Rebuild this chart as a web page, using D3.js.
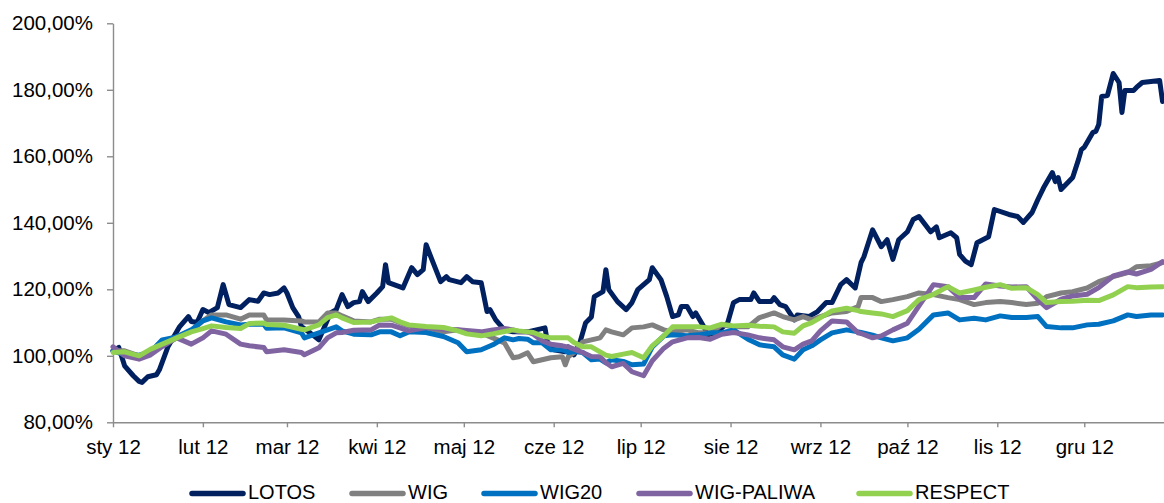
<!DOCTYPE html>
<html><head><meta charset="utf-8">
<script src="https://cdnjs.cloudflare.com/ajax/libs/d3/7.8.5/d3.min.js"></script>
<style>
body{margin:0;background:#fff;}
svg text{font-family:"Liberation Sans",Arial,sans-serif;fill:#000;}
</style>
</head><body>
<svg id="chart" width="1164" height="503"></svg>
<script>
// ---------- DATA ----------
const yTicks = [80,100,120,140,160,180,200];
const monthTicks = ["2012-01-01","2012-02-01","2012-03-01","2012-04-01","2012-05-01","2012-06-01","2012-07-01","2012-08-01","2012-09-01","2012-10-01","2012-11-01","2012-12-01"];
const monthLabels = ["sty 12","lut 12","mar 12","kwi 12","maj 12","cze 12","lip 12","sie 12","wrz 12","paź 12","lis 12","gru 12"];
const seriesNames = ["LOTOS","WIG","WIG20","WIG-PALIWA","RESPECT"];
const seriesColors = ["#002060","#808080","#0070C0","#8064A2","#92D050"];

const lotosDates = ["2012-01-01","2012-01-03","2012-01-05","2012-01-08","2012-01-10","2012-01-11","2012-01-13","2012-01-16","2012-01-17","2012-01-20","2012-01-22","2012-01-24","2012-01-27","2012-01-28","2012-01-30",
"2012-02-01","2012-02-03","2012-02-06","2012-02-08","2012-02-10","2012-02-14","2012-02-17","2012-02-20","2012-02-22","2012-02-24","2012-02-27","2012-02-29",
"2012-03-01","2012-03-03","2012-03-05","2012-03-06","2012-03-09","2012-03-12","2012-03-14","2012-03-16","2012-03-18","2012-03-20","2012-03-22","2012-03-24","2012-03-26","2012-03-27","2012-03-29",
"2012-04-01","2012-04-03","2012-04-04","2012-04-05","2012-04-10","2012-04-13","2012-04-15","2012-04-17","2012-04-18","2012-04-20","2012-04-23","2012-04-25","2012-04-26","2012-04-30",
"2012-05-02","2012-05-04","2012-05-07","2012-05-09","2012-05-10","2012-05-12","2012-05-15","2012-05-18","2012-05-23","2012-05-26","2012-05-29","2012-05-30",
"2012-06-01","2012-06-05","2012-06-06","2012-06-08","2012-06-10","2012-06-12","2012-06-14","2012-06-15","2012-06-18","2012-06-19","2012-06-20","2012-06-23","2012-06-26","2012-06-28","2012-06-30",
"2012-07-02","2012-07-04","2012-07-05","2012-07-08","2012-07-10","2012-07-12","2012-07-14","2012-07-15","2012-07-17","2012-07-19","2012-07-20","2012-07-23","2012-07-24","2012-07-27","2012-07-31",
"2012-08-02","2012-08-04","2012-08-08","2012-08-09","2012-08-11","2012-08-15","2012-08-16","2012-08-18","2012-08-20","2012-08-23","2012-08-24","2012-08-28","2012-08-31",
"2012-09-03","2012-09-05","2012-09-08","2012-09-10","2012-09-13","2012-09-15","2012-09-16","2012-09-17","2012-09-19","2012-09-22","2012-09-24","2012-09-26","2012-09-28",
"2012-10-01","2012-10-03","2012-10-05","2012-10-09","2012-10-11","2012-10-12","2012-10-16","2012-10-18","2012-10-19","2012-10-21","2012-10-23","2012-10-25","2012-10-29","2012-10-31",
"2012-11-05","2012-11-08","2012-11-10","2012-11-13","2012-11-15","2012-11-17","2012-11-20","2012-11-21","2012-11-22","2012-11-23","2012-11-27","2012-11-29","2012-11-30",
"2012-12-01","2012-12-04","2012-12-05","2012-12-06","2012-12-07","2012-12-09","2012-12-11","2012-12-13","2012-12-14","2012-12-15","2012-12-18","2012-12-19","2012-12-21","2012-12-27","2012-12-28"];
const lotos = [101.5,102.5,97,94,92.3,92,93.7,94.3,95.8,102.8,105.8,108.8,111.8,110.3,110,
113.9,113,114.5,121.4,115.4,114.5,116.9,116.4,118.9,118.4,118.9,120.4,
118.9,114.5,111.8,108.8,106.9,104.8,108.8,112.9,113.9,118.4,114.8,116,116.3,119.3,116.3,
118.9,120.8,127.4,122,120.4,126.5,124.4,125.9,133.4,128.9,122.3,123.8,122.9,122,
123.8,122.3,122,113.3,113.9,110.8,107.8,107.2,107.2,107.8,108.4,103.3,
101.8,101.2,102.7,100.3,103.9,109.9,111.7,117.8,119.3,125.9,119.9,116.3,113.9,116,119.9,
121.4,122.9,126.5,122.9,117.8,111.8,112.3,114.8,114.8,111.8,112.9,108.4,106.3,106.9,109.9,
116,116.9,116.9,118.9,116.3,116.3,117.5,115.4,114.8,110.8,112.3,111.8,113.3,
116,116,121.4,122.9,120.4,128,129.8,132.5,137.9,132.8,134.9,129,134.9,
137.3,141,141.9,137.3,138.8,135.5,137,135.5,130.5,128.5,127.4,134,135.8,144,
142.5,141.9,140.1,143.1,147,150.6,155.1,152.4,153.6,150,153.6,159,162,
162.7,167.2,167.5,169.6,178,178.3,184.9,182.2,173.2,179.8,179.8,180.7,182.2,182.8,176.5];

const indexDates = ["2012-01-01","2012-01-05","2012-01-10","2012-01-14","2012-01-18","2012-01-23","2012-01-28",
"2012-02-01","2012-02-04","2012-02-09","2012-02-14","2012-02-17","2012-02-22","2012-02-23","2012-02-29",
"2012-03-06","2012-03-07","2012-03-12","2012-03-15","2012-03-18","2012-03-20","2012-03-24","2012-03-30",
"2012-04-02","2012-04-06","2012-04-09","2012-04-12","2012-04-18","2012-04-24","2012-04-29",
"2012-05-02","2012-05-07","2012-05-11","2012-05-15","2012-05-18","2012-05-20","2012-05-23","2012-05-25","2012-05-28","2012-05-31",
"2012-06-04","2012-06-05","2012-06-06","2012-06-08","2012-06-11","2012-06-14","2012-06-17","2012-06-19","2012-06-21","2012-06-25","2012-06-28",
"2012-07-02","2012-07-05","2012-07-09","2012-07-12","2012-07-17","2012-07-21","2012-07-25","2012-07-29",
"2012-08-02","2012-08-07","2012-08-11","2012-08-16","2012-08-19","2012-08-23","2012-08-26","2012-08-29",
"2012-09-01","2012-09-05","2012-09-10","2012-09-14","2012-09-15","2012-09-19","2012-09-22","2012-09-26",
"2012-10-01","2012-10-05","2012-10-10","2012-10-15","2012-10-19","2012-10-24","2012-10-28",
"2012-11-02","2012-11-06","2012-11-11","2012-11-15","2012-11-18","2012-11-23","2012-11-27",
"2012-12-02","2012-12-06","2012-12-11","2012-12-16","2012-12-19","2012-12-24","2012-12-28"];
const wig = [101.5,101.5,100,100.8,104.2,105.7,107.5,110.5,112.3,112.3,
111,112.3,112.3,110.8,110.8,110.5,110.2,110.2,112.9,112.9,
112,110.5,110.2,111,111,110,109,108.5,107.2,107.8,
107.2,106.9,105.4,103.9,99.4,99.7,100.9,98.2,98.8,99.4,
99.7,97.3,99.7,100.9,104.2,104.8,105.4,107.8,107.2,106.3,
108.4,108.7,109.3,107.8,107.2,107.8,106.9,106.9,109.3,108.7,
108.7,111.5,112.9,111.8,110.8,111.8,110.8,111.8,112.9,113.3,
114.8,117.5,117.5,116.3,116.9,117.8,118.9,118.4,117.5,116.9,
115.4,116,116.3,116,115.4,115.8,117.8,118.9,119.3,120.4,
122.3,123.8,125,126.8,127.1,128];
const wig20 = [101.5,100.3,100.2,101.2,104.8,105.7,107.8,110.5,111.4,110.2,
109.3,109.5,109.5,108.3,108.4,106.9,105.4,106.9,107.8,108.7,
107.5,106.5,106.3,107.2,107.2,106,107.2,107,105.8,103.9,
101.2,101.8,103.3,105.4,104.8,105.2,105,103.9,103.9,101.8,
101.8,101.5,101,101.3,101,98.8,99,97.9,98.8,98.3,
97.3,97.5,102.7,106,106.3,106,106.3,106.9,106.9,107.8,
105,103.3,102.7,100.3,99,101.8,103,104.8,106.9,107.8,
107.2,107,106.2,105.4,104.5,105.4,108,112.3,112.9,110.8,
111.3,110.8,112,111.5,111.5,111.8,108.8,108.4,108.4,109.3,
109.5,110.5,112.3,111.8,112.3,112.3];
const wigPaliwa = [102.7,100,99,100.3,102.8,105.4,103.5,105.4,107.5,106.5,
103.5,103,102.5,101.2,101.8,101,100.3,102.4,105.4,106.9,
107,107.7,107.8,109.3,109.2,108.4,107.5,108.5,108,107.8,
107.6,107.2,107.8,108.2,107.8,107.2,107.2,106.5,104.5,103.5,
103,102.8,102.7,102,101,99.8,99.7,97.9,96.7,97.7,
95.2,94,98.5,102.3,104.2,105.4,105.5,105,106.5,107,
106.3,105.4,104.8,102.7,101.8,103.5,104.5,107.5,110.5,110.2,
106.9,106.7,105.4,106,107.8,109.8,115,121.4,120.8,117.5,
117.5,121.6,121,120.7,120.8,116.9,114.5,117,118,118.5,
120.5,124,125.2,124.6,126,128.3];
const respect = [101,101.2,100,102,103.5,105.4,107.2,108.2,109,108.5,
108.2,109.7,109.9,109.4,109.2,108,107.8,109.3,111.5,112.3,
111.4,110,110.2,110.8,111.4,110.2,109.3,108.8,108.5,107.5,
106.6,106,106.6,107.3,107.8,107.5,107.2,107,106,105.4,
105.4,105.4,105.4,104,102.7,102.7,101.2,100.2,99.8,100.5,
101,99.4,103,106,108.7,108.7,108.7,108.4,109.5,109,
109.2,108.9,108.7,107.2,106.8,109,110,111.5,113.5,114.3,
113.6,113.3,112.9,112.6,111.8,113.6,116.9,118.5,120.8,118.9,
119.8,120.6,121.4,120.3,120.5,118.4,116,116.3,116.4,116.7,
116.6,118.3,120.8,120.5,120.7,120.8];

// ---------- CHART ----------
const parse = d3.timeParse("%Y-%m-%d");
const svg = d3.select("#chart");
const x = d3.scaleTime()
  .domain([new Date(2012,0,1), new Date(2012,11,28,12)])
  .range([113, 1164]);
const y = d3.scaleLinear().domain([80,200]).range([422.3, 23.3]);

const fmt = d => d3.format(".2f")(d).replace(".", ",") + "%";
const axisColor = "#8c8c8c";

const gy = svg.append("g").attr("transform","translate(113,0)")
  .call(d3.axisLeft(y).tickValues(yTicks).tickSize(6).tickSizeOuter(0).tickPadding(14).tickFormat(fmt));
const gx = svg.append("g").attr("transform","translate(0,422.3)")
  .call(d3.axisBottom(x).tickValues(monthTicks.map(parse)).tickSize(5).tickSizeOuter(0).tickPadding(12)
    .tickFormat((d,i) => monthLabels[i]));
[gx, gy].forEach(g => {
  g.selectAll("path.domain").attr("stroke", axisColor).attr("stroke-width", 1.4);
  g.selectAll(".tick line").attr("stroke", axisColor).attr("stroke-width", 1.4);
  g.selectAll(".tick text").attr("font-size", "20.5px").attr("font-family", '"Liberation Sans",Arial,sans-serif').attr("fill","#000");
});

const series = [
  {name: seriesNames[0], dates: lotosDates, values: lotos},
  {name: seriesNames[1], dates: indexDates, values: wig},
  {name: seriesNames[2], dates: indexDates, values: wig20},
  {name: seriesNames[3], dates: indexDates, values: wigPaliwa},
  {name: seriesNames[4], dates: indexDates, values: respect}
];
const line = d3.line().x(d => x(d[0])).y(d => y(d[1]));
series.forEach((s, i) => {
  const pts = s.dates.map((d, j) => [parse(d), s.values[j]]);
  svg.append("path").datum(pts)
    .attr("d", line)
    .attr("fill", "none")
    .attr("stroke", seriesColors[i])
    .attr("stroke-width", 5)
    .attr("stroke-linejoin", "round")
    .attr("stroke-linecap", "round");
});

// legend
const legendX = [190, 350, 482, 637, 857];
const legend = svg.append("g");
const ly = 493.5;
seriesNames.forEach((n, i) => {
  const lx = legendX[i];
  legend.append("line").attr("x1", lx + 2).attr("x2", lx + 53).attr("y1", ly).attr("y2", ly)
    .attr("stroke", seriesColors[i]).attr("stroke-width", 5.5).attr("stroke-linecap", "round");
  legend.append("text").attr("x", lx + 58).attr("y", 498.5)
    .attr("font-size", "20px").text(n);
});
</script>
</body></html>
